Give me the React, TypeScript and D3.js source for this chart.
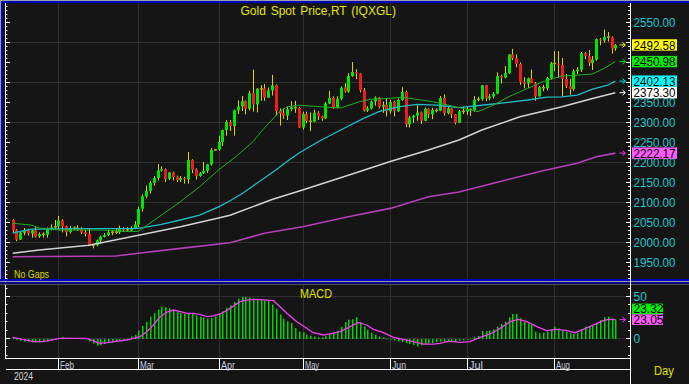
import React from 'react';
import * as d3 from 'd3';

// ---------- DATA ----------
const TITLE = 'Gold Spot Price,RT (IQXGL)';
const START_DATE = new Date(2024, 0, 16);
const END_DATE = new Date(2024, 7, 24);
const YEAR_LABEL = '2024';

// daily candles [open, high, low, close]
const ohlc: [number, number, number, number][] = [
  [2055, 2057, 2023, 2029], [2029, 2032, 2002, 2006], [2006, 2025, 2005, 2023], [2023, 2035, 2017, 2029],
  [2029, 2033, 2016, 2021], [2021, 2031, 2011, 2029], [2029, 2037, 2011, 2014], [2014, 2024, 2010, 2020],
  [2020, 2024, 2011, 2018], [2018, 2036, 2011, 2033], [2033, 2044, 2029, 2037], [2037, 2055, 2031, 2039],
  [2039, 2065, 2032, 2054], [2054, 2057, 2024, 2039], [2039, 2041, 2014, 2025], [2025, 2040, 2021, 2035],
  [2035, 2039, 2030, 2034], [2034, 2042, 2028, 2034], [2034, 2037, 2020, 2024], [2024, 2031, 2014, 2020],
  [2020, 2034, 1990, 1992], [1992, 1995, 1984, 1992], [1992, 2006, 1989, 2004], [2004, 2016, 1996, 2013],
  [2013, 2022, 2011, 2017], [2017, 2031, 2015, 2024], [2024, 2030, 2017, 2025], [2025, 2035, 2020, 2024],
  [2024, 2041, 2020, 2035], [2035, 2037, 2025, 2031], [2031, 2037, 2025, 2029], [2029, 2039, 2025, 2034],
  [2034, 2052, 2032, 2044], [2044, 2088, 2038, 2083], [2083, 2119, 2076, 2114], [2114, 2141, 2109, 2128],
  [2128, 2152, 2121, 2148], [2148, 2165, 2141, 2160], [2160, 2195, 2154, 2179], [2179, 2189, 2176, 2182],
  [2182, 2184, 2150, 2158], [2158, 2175, 2155, 2174], [2174, 2176, 2154, 2162], [2162, 2166, 2150, 2155],
  [2155, 2165, 2150, 2160], [2160, 2163, 2146, 2157], [2157, 2225, 2146, 2205], [2205, 2207, 2172, 2181],
  [2181, 2184, 2156, 2165], [2165, 2175, 2163, 2172], [2172, 2200, 2170, 2178], [2178, 2195, 2173, 2194],
  [2194, 2235, 2191, 2230], [2230, 2233, 2228, 2231], [2231, 2266, 2228, 2250], [2250, 2281, 2240, 2280],
  [2280, 2305, 2266, 2300], [2300, 2305, 2277, 2290], [2290, 2331, 2266, 2329], [2329, 2354, 2320, 2339],
  [2339, 2365, 2327, 2352], [2352, 2354, 2319, 2333], [2333, 2378, 2329, 2372], [2372, 2431, 2326, 2344],
  [2344, 2385, 2324, 2383], [2382, 2392, 2353, 2384], [2384, 2395, 2353, 2361], [2361, 2386, 2360, 2379],
  [2379, 2418, 2366, 2392], [2392, 2394, 2316, 2327], [2327, 2334, 2291, 2322], [2322, 2334, 2308, 2316],
  [2316, 2338, 2305, 2332], [2332, 2352, 2327, 2337], [2337, 2353, 2323, 2335], [2335, 2338, 2285, 2286],
  [2286, 2326, 2281, 2320], [2320, 2326, 2297, 2303], [2303, 2324, 2277, 2301], [2301, 2331, 2299, 2323],
  [2323, 2327, 2305, 2314], [2314, 2316, 2303, 2309], [2309, 2350, 2307, 2346], [2346, 2378, 2345, 2360],
  [2360, 2364, 2333, 2336], [2336, 2364, 2334, 2358], [2358, 2389, 2354, 2386], [2386, 2397, 2373, 2376],
  [2376, 2422, 2373, 2415], [2415, 2450, 2413, 2425], [2425, 2432, 2407, 2421], [2421, 2422, 2374, 2379],
  [2379, 2385, 2326, 2329], [2329, 2339, 2325, 2334], [2334, 2354, 2331, 2351], [2351, 2364, 2341, 2361],
  [2361, 2362, 2334, 2338], [2338, 2351, 2323, 2343], [2343, 2360, 2314, 2327], [2327, 2355, 2321, 2350],
  [2350, 2353, 2314, 2327], [2327, 2359, 2325, 2355], [2355, 2387, 2353, 2375], [2375, 2378, 2287, 2294],
  [2294, 2316, 2286, 2311], [2311, 2318, 2298, 2316], [2316, 2342, 2303, 2324], [2324, 2326, 2295, 2303],
  [2303, 2336, 2302, 2333], [2333, 2334, 2310, 2319], [2319, 2335, 2307, 2330], [2330, 2334, 2324, 2328],
  [2328, 2365, 2327, 2360], [2360, 2369, 2316, 2322], [2322, 2337, 2319, 2334], [2334, 2335, 2310, 2319],
  [2319, 2320, 2294, 2298], [2298, 2330, 2297, 2327], [2327, 2339, 2320, 2326], [2326, 2338, 2318, 2332],
  [2332, 2334, 2315, 2330], [2330, 2365, 2326, 2356], [2356, 2363, 2352, 2357], [2357, 2392, 2353, 2392],
  [2392, 2393, 2352, 2359], [2359, 2370, 2354, 2364], [2364, 2375, 2359, 2371], [2371, 2424, 2369, 2415],
  [2415, 2418, 2396, 2411], [2411, 2440, 2409, 2422], [2422, 2469, 2420, 2469], [2469, 2483, 2455, 2459],
  [2459, 2469, 2437, 2445], [2445, 2449, 2393, 2400], [2400, 2412, 2384, 2396], [2396, 2411, 2385, 2409],
  [2409, 2431, 2405, 2397], [2397, 2400, 2353, 2364], [2364, 2390, 2364, 2387], [2387, 2393, 2377, 2384],
  [2384, 2413, 2379, 2410], [2410, 2450, 2406, 2447], [2447, 2477, 2427, 2446], [2446, 2477, 2410, 2443],
  [2443, 2460, 2364, 2408], [2408, 2420, 2385, 2390], [2390, 2408, 2368, 2382], [2382, 2432, 2378, 2427],
  [2427, 2437, 2420, 2431], [2431, 2475, 2425, 2472], [2472, 2475, 2457, 2465], [2465, 2480, 2440, 2447],
  [2447, 2465, 2430, 2456], [2456, 2509, 2453, 2507], [2507, 2510, 2492, 2504], [2504, 2531, 2498, 2513],
  [2513, 2525, 2501, 2512], [2512, 2514, 2471, 2484], [2484, 2495, 2478, 2492.58],
];

// moving averages: [day index, value]
const ma20: [number, number][] = [
  [0, 2047], [5, 2042], [7, 2035], [12, 2030], [23, 2030], [31, 2026], [33, 2027], [39, 2067], [44, 2101],
  [49, 2138], [54, 2180], [59, 2217], [63, 2251], [66, 2285], [70, 2326], [72, 2338], [75, 2342], [81, 2338],
  [86, 2335], [91, 2351], [94, 2357], [99, 2359], [102, 2362], [107, 2355], [110, 2351], [117, 2336],
  [122, 2326], [126, 2342], [130, 2363], [135, 2384], [139, 2401], [144, 2415], [148, 2417], [152, 2420],
  [155, 2434], [158, 2450.98],
];
const ma50: [number, number][] = [
  [0, 2022], [5, 2032], [33, 2034], [39, 2044], [44, 2055], [49, 2067], [54, 2088], [57, 2103], [60, 2120],
  [63, 2140], [66, 2160], [69, 2180], [72, 2202], [75, 2222], [80, 2250], [86, 2280], [92, 2309], [96, 2326],
  [101, 2338], [106, 2344], [111, 2342], [117, 2336], [126, 2345], [135, 2355], [140, 2362], [144, 2363],
  [148, 2367], [152, 2382], [156, 2392], [158, 2402.13],
];
const ma100: [number, number][] = [
  [0, 1972], [7, 1980], [20, 1992], [33, 2017], [44, 2038], [54, 2060], [57, 2067], [64, 2092], [68, 2106],
  [76, 2130], [88, 2167], [99, 2201], [109, 2230], [117, 2255], [123, 2280], [133, 2313], [144, 2338],
  [152, 2359], [158, 2373.3],
];
const ma200: [number, number][] = [
  [0, 1963], [27, 1965], [33, 1972], [44, 1984], [57, 1998], [66, 2022], [76, 2038], [88, 2063], [99, 2084],
  [109, 2113], [117, 2125], [126, 2147], [139, 2178], [148, 2197], [153, 2213], [158, 2222.17],
];

// MACD histogram, one per day
const macd: number[] = [
  2, -1, -2, -3, -3, -4, -4, -4, -3, -3, -2, -1, 1, 2.5, 1.5, 1, 1, 1, 1, 0.5, -3, -5.5, -8, -7.5, -6, -5, -4, -3, -2, -1, 0.5, 3, 5,
  10, 15.5, 20.5, 26.5, 31, 35, 38.5, 38, 36.5, 34, 33, 31, 30, 30, 30.5, 28, 26.5, 25.5, 24.5, 25, 27, 30, 33, 37,
  40, 44, 48, 50, 50, 49.5, 48.5, 47.5, 47, 46, 45.5, 41, 36, 29, 24, 21, 19, 13, 9, 8, 5, 4, 3, 2, 2, 3.5, 6, 7.5, 10, 14.5,
  20, 23, 23.5, 26, 20, 15, 11, 7.5, 5, 3, 2, 0.5, -0.5, -1.5, -3, -3.5, -5, -6, -7, -9, -7.5, -6.5, -5.5, -5, -4, -3, -3, -3, -3.5, -3.5,
  -2, -1.5, -1, 0.5, 2, 3.6, 9.5, 9.5, 9.9, 11.5, 14.7, 17.9, 20.6, 25.8, 29.8, 29.8, 24.6, 20.6, 18.7, 16.7,
  8.7, 6.8, 7.5, 8.7, 11.5, 14.7, 12.7, 10.7, 8.7, 6.8, 6, 7.5, 11.5, 14.7, 14.7, 15.5, 19.4, 22.6, 25.8, 26.6, 24.6, 23.32,
];
// MACD signal line: [day index, value]
const signal: [number, number][] = [
  [0, 2], [5.5, -3.2], [8, -3.2], [12.4, 0.8], [19.4, 0.8], [22.9, -5.2], [24.7, -4.4], [29.9, -1.2], [33.4, 2.8],
  [35.2, 8.7], [36.9, 16.7], [38.7, 26.6], [40.5, 32.1], [42.2, 34.5], [44, 32.5], [45.7, 30.6], [47.4, 30.6],
  [49.1, 29.4], [50.9, 26.6], [52.6, 27.4], [54.4, 29.8], [56.1, 33.7], [57, 36.5], [59.6, 44.4], [61.4, 46.4],
  [64, 47.2], [66.6, 46.4], [68.4, 45.6], [70.1, 38.5], [71.9, 30.6], [74.5, 20.6], [77.1, 12.7], [78.8, 7.5],
  [81.5, 4.8], [83.2, 6], [85.8, 8.7], [88.5, 14.7], [90.6, 19.8], [92.8, 16.7], [94.6, 11.5], [97.2, 7.5],
  [99.8, 2], [102.4, -0.4], [105.1, -3.2], [107.7, -6], [110.3, -6], [112, -5.2], [113.8, -3.2], [115.5, -3.2],
  [117.3, -4], [119.9, -3.2], [122.5, 2], [125.2, 6], [127.8, 12.7], [130.4, 20.6], [132.6, 23.4], [134.8, 20.6],
  [137.4, 14.7], [140, 9.9], [142.6, 11.5], [145.3, 9.9], [147.4, 7.5], [149.6, 11.5], [152.3, 16.7],
  [154.9, 21.8], [156.2, 23.4], [158, 23.05],
];

const priceLabels = [2550, 2500, 2450, 2400, 2350, 2300, 2250, 2200, 2150, 2100, 2050, 2000, 1950];
const priceGrid = [2500, 2400, 2300, 2200, 2100, 2000];
const macdLabels = [50, 0];

// ---------- LAYOUT ----------
const W = 689, H = 384;
const PL = 5, PR = 630;
const MAIN_T = 3, MAIN_B = 279;
const MACD_T = 285, MACD_B = 358.5;
const BAND_B = 369.5;
const FONT = "'Liberation Sans', Arial, sans-serif";
const BG = '#151515';
const GRID = '#2f2f2f';
const LABEL = '#1ec6cf';

export default function App() {
  const dates = d3.timeDay.range(START_DATE, END_DATE).filter((d) => d.getDay() !== 0 && d.getDay() !== 6);
  const n = ohlc.length;
  const x = d3.scaleLinear().domain([0, n - 1]).range([12.6, 12.6 + 3.815 * (n - 1)]);
  const y = d3.scaleLinear().domain([2000, 2550]).range([242, 22]);
  const ym = d3.scaleLinear().domain([0, 50]).range([339, 297]);

  const monthIdx: number[] = [];
  dates.forEach((d, i) => {
    if (i > 0 && d.getMonth() !== dates[i - 1].getMonth()) monthIdx.push(i);
  });
  const fmtMonth = d3.timeFormat('%b');
  const gx = (i: number) => Math.round(x(i)) + 0.5;

  const maLine = d3.line<[number, number]>().x((d) => x(d[0])).y((d) => y(d[1]));
  const sigLine = d3.line<[number, number]>().x((d) => x(d[0])).y((d) => ym(d[1]));

  const priceTicks = d3.range(1910, 2600, 10).filter((v) => y(v) >= MAIN_T && y(v) <= MAIN_B);
  const macdTicks = d3.range(-20, 70, 10).filter((v) => ym(v) >= MACD_T && ym(v) <= MACD_B);

  const last = n - 1;
  const boxes = [
    { v: ohlc[last][3], fill: '#ffff00', arrow: '#ffff00' },
    { v: ma20[ma20.length - 1][1], fill: '#00f000', arrow: '#00e000' },
    { v: ma50[ma50.length - 1][1], fill: '#00ffff', arrow: '#00e8e8' },
    { v: ma100[ma100.length - 1][1], fill: '#ffffff', arrow: '#ffffff' },
    { v: ma200[ma200.length - 1][1], fill: '#ff5cff', arrow: '#e040e0' },
  ];
  // axis labels that sit entirely under a value box are hidden, as in the original
  const visibleLabels = priceLabels.filter((v) => boxes.every((b) => Math.abs(y(b.v) - y(v)) > 8));
  const lastMacd = macd[macd.length - 1];
  const lastSig = signal[signal.length - 1][1];
  const sigY = ym(lastSig);

  const arrow = (yc: number, color: string, key: string) => (
    <path key={key} d={`M619.5,${yc} H625 M622.5,${yc - 2.5} L625.5,${yc} L622.5,${yc + 2.5}`} stroke={color} strokeWidth={1} fill="none" />
  );

  return (
    <svg width={W} height={H} style={{ position: 'absolute', left: 0, top: 0, display: 'block' }} fontFamily={FONT}>
      <defs>
        <clipPath id="mainClip"><rect x={3} y={MAIN_T} width={PR - 3} height={MAIN_B - MAIN_T} /></clipPath>
        <clipPath id="macdClip"><rect x={PL} y={MACD_T} width={PR - PL} height={MACD_B - MACD_T} /></clipPath>
      </defs>
      <rect x={0} y={0} width={W} height={H} fill={BG} />

      {/* frame */}
      <rect x={0} y={0} width={W} height={1} fill="#a0a0a0" />
      <rect x={0} y={1} width={W} height={2} fill="#0000c0" />
      <rect x={0} y={0} width={1} height={280} fill="#a0a0a0" />
      <rect x={1} y={1} width={2} height={279} fill="#0000c0" />
      <rect x={0} y={279} width={W} height={2} fill="#0000c0" />
      <rect x={0} y={281} width={W} height={1} fill="#9a9a9a" />
      <rect x={0} y={282} width={W} height={1.5} fill="#0000b0" />
      <rect x={0} y={284} width={W} height={1} fill="#505050" />

      {/* main grid */}
      {priceGrid.map((v) => (
        <line key={'hg' + v} x1={PL} x2={PR} y1={Math.round(y(v)) + 0.5} y2={Math.round(y(v)) + 0.5} stroke={GRID} />
      ))}
      {monthIdx.map((i) => (
        <line key={'vg' + i} x1={gx(i)} x2={gx(i)} y1={MAIN_T} y2={MAIN_B} stroke={GRID} />
      ))}

      {/* candles */}
      <g clipPath="url(#mainClip)">
        {ohlc.map(([o, h, l, c], i) => {
          const cx = Math.round(x(i));
          const top = y(Math.max(o, c));
          const bot = y(Math.min(o, c));
          const doji = bot - top < 1.2;
          return (
            <g key={'c' + i}>
              <line x1={cx + 0.5} x2={cx + 0.5} y1={y(h)} y2={y(l)} stroke="#d8d800" strokeWidth={1} />
              <rect
                x={cx - 1}
                y={doji ? (top + bot) / 2 - 0.75 : top}
                width={3}
                height={doji ? 1.5 : bot - top}
                fill={doji ? '#a8a800' : c >= o ? '#00e400' : '#f01c1c'}
              />
            </g>
          );
        })}
        <path d={maLine(ma200) || ''} fill="none" stroke="#b440b8" strokeWidth={1.6} />
        <path d={maLine(ma100) || ''} fill="none" stroke="#d2d2d2" strokeWidth={1.6} />
        <path d={maLine(ma50) || ''} fill="none" stroke="#22bcc6" strokeWidth={1.3} />
        <path d={maLine(ma20) || ''} fill="none" stroke="#1fb01f" strokeWidth={1} />
      </g>

      {/* left axis main */}
      <line x1={PL + 0.5} x2={PL + 0.5} y1={MAIN_T} y2={MAIN_B} stroke="#ffffff" />
      {priceTicks.map((v) => (
        <line key={'lt' + v} x1={PL} x2={PL + (v % 50 === 0 ? 5 : 2.5)} y1={Math.round(y(v)) + 0.5} y2={Math.round(y(v)) + 0.5} stroke="#ffffff" />
      ))}

      {/* right axis */}
      <line x1={PR + 0.5} x2={PR + 0.5} y1={3} y2={H} stroke="#ffffff" />
      {priceTicks.map((v) => (
        <line key={'rt' + v} x1={PR + 1 - (v % 50 === 0 ? 5 : 3)} x2={PR + 1} y1={Math.round(y(v)) + 0.5} y2={Math.round(y(v)) + 0.5} stroke="#ffffff" />
      ))}
      {visibleLabels.map((v) => (
        <text key={'pl' + v} x={633.5} y={y(v) + 4.6} fontSize={12.5} fill={LABEL} textLength={42} lengthAdjust="spacingAndGlyphs">
          {v.toFixed(2)}
        </text>
      ))}
      {boxes.map((b, k) => {
        const yc = y(b.v);
        return (
          <g key={'bx' + k}>
            {arrow(yc, b.arrow, 'a' + k)}
            <rect x={632} y={yc - 5.7} width={45} height={11.4} fill={b.fill} />
            <text x={633.5} y={yc + 4.6} fontSize={12.5} fill="#000000" textLength={42} lengthAdjust="spacingAndGlyphs">
              {b.v.toFixed(2)}
            </text>
          </g>
        );
      })}

      {/* titles */}
      <text x={240.5} y={14.5} fontSize={12} fill="#e6e600" wordSpacing={1.5}>{TITLE}</text>
      <text x={14} y={277.5} fontSize={10} fill="#d8d800" textLength={35} lengthAdjust="spacingAndGlyphs">No Gaps</text>

      {/* MACD panel */}
      {macdLabels.map((v) => (
        <line key={'mg' + v} x1={PL} x2={PR} y1={Math.round(ym(v)) - 0.5} y2={Math.round(ym(v)) - 0.5} stroke={GRID} />
      ))}
      {monthIdx.map((i) => (
        <line key={'mvg' + i} x1={gx(i)} x2={gx(i)} y1={MACD_T} y2={MACD_B} stroke={GRID} />
      ))}
      <g clipPath="url(#macdClip)">
        {macd.map((v, i) => {
          const cx = Math.round(x(i));
          const y0 = ym(0);
          const y1 = ym(v);
          return <rect key={'h' + i} x={cx} y={Math.min(y0, y1)} width={1.5} height={Math.max(0.8, Math.abs(y1 - y0))} fill="#00d400" />;
        })}
        <path d={sigLine(signal) || ''} fill="none" stroke="#f040f0" strokeWidth={1.3} />
      </g>
      <text x={300} y={297.5} fontSize={13} fill="#e0e000" textLength={32} lengthAdjust="spacingAndGlyphs">MACD</text>

      <line x1={PL + 0.5} x2={PL + 0.5} y1={MACD_T} y2={MACD_B} stroke="#ffffff" />
      {macdTicks.map((v) => (
        <g key={'mt' + v}>
          <line x1={PL} x2={PL + (v % 50 === 0 ? 5 : 2.5)} y1={Math.round(ym(v)) - 0.5} y2={Math.round(ym(v)) - 0.5} stroke="#ffffff" />
          <line x1={PR + 1 - (v % 50 === 0 ? 5 : 3)} x2={PR + 1} y1={Math.round(ym(v)) - 0.5} y2={Math.round(ym(v)) - 0.5} stroke="#ffffff" />
        </g>
      ))}
      {macdLabels.map((v) => (
        <text key={'ml' + v} x={633.5} y={ym(v) + 4.3} fontSize={12} fill={LABEL}>{v}</text>
      ))}
      {arrow(sigY, '#f040f0', 'sa')}
      <rect x={632} y={sigY - 16} width={31} height={10.6} fill="#00f000" />
      <text x={633.5} y={sigY - 6.6} fontSize={12} fill="#000000">{lastMacd.toFixed(2)}</text>
      <rect x={632} y={sigY - 5.3} width={31} height={10.6} fill="#ff5cff" />
      <text x={633.5} y={sigY + 4.3} fontSize={12} fill="#000000">{lastSig.toFixed(2)}</text>

      {/* time axis band */}
      <line x1={PL} x2={PR} y1={MACD_B} y2={MACD_B} stroke="#ffffff" />
      <line x1={PL + 1} x2={PR} y1={BAND_B} y2={BAND_B} stroke="#ffffff" />
      {monthIdx.map((i) => (
        <g key={'mx' + i}>
          <line x1={gx(i)} x2={gx(i)} y1={MACD_B} y2={BAND_B} stroke="#ffffff" />
          <text x={gx(i) + 1.5} y={368.5} fontSize={10} fill="#c6cade" textLength={14} lengthAdjust="spacingAndGlyphs">
            {fmtMonth(dates[i])}
          </text>
        </g>
      ))}
      <text x={14} y={379.5} fontSize={10} fill="#d6d6d6" textLength={19} lengthAdjust="spacingAndGlyphs">{YEAR_LABEL}</text>
      <text x={654} y={374.5} fontSize={12.5} fill="#e0e000" textLength={20} lengthAdjust="spacingAndGlyphs">Day</text>
    </svg>
  );
}
